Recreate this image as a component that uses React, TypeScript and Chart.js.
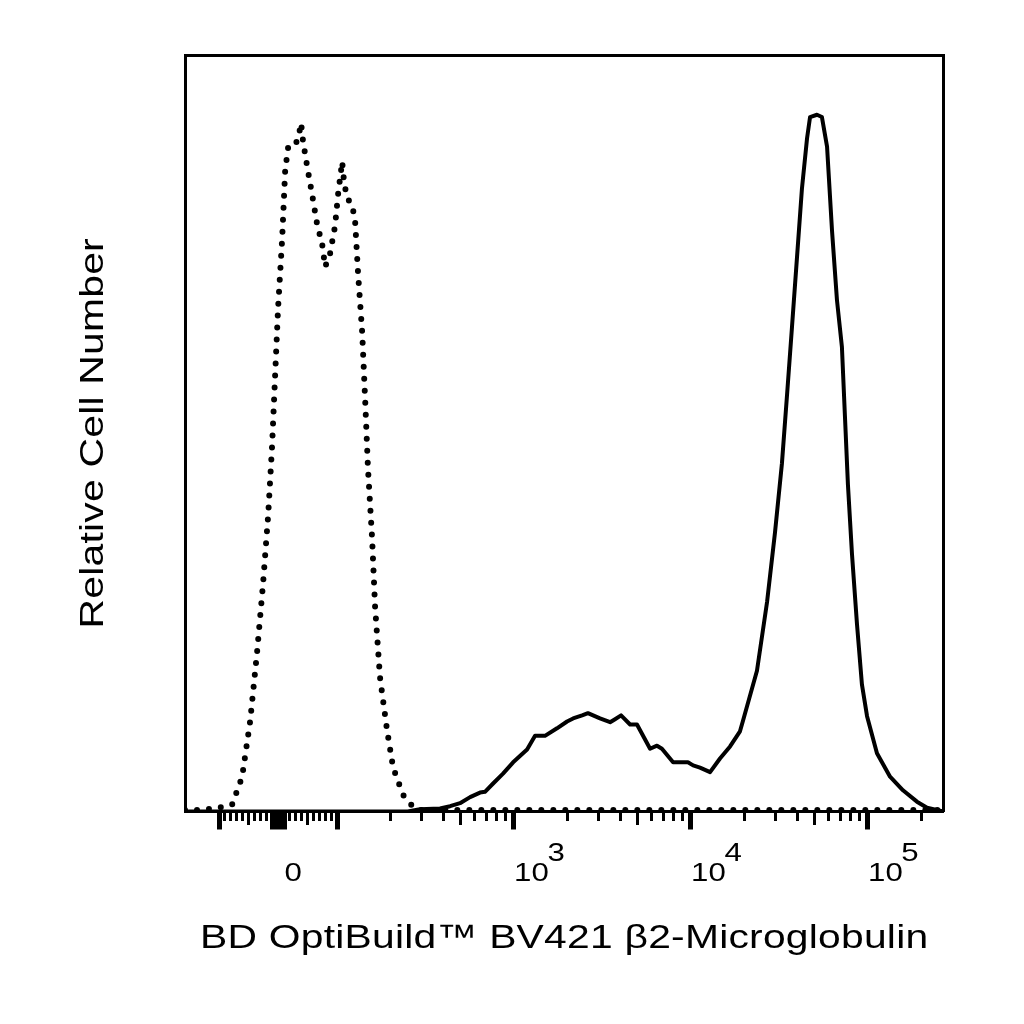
import React, { useEffect, useRef } from "react";
import { Chart, registerables } from "chart.js";

Chart.register(...registerables);

// ---- Data (x in logicle display units: 100 -> 2, 1000 -> 3, 10^4 -> 4 ...; y in % of max) ----
const isotypeX = [
  1.141, 1.226, 1.311, 1.407, 1.464, 1.509, 1.548, 1.582, 1.611, 1.633, 1.65, 1.667, 1.69,
  1.707, 1.723, 1.752, 1.78, 1.797, 1.808, 1.831, 1.859, 1.887, 1.916, 1.933, 1.961, 1.989,
  2.006, 2.029, 2.04, 2.057, 2.085, 2.102, 2.119, 2.142, 2.159, 2.175, 2.198, 2.215, 2.243,
  2.283, 2.317, 2.373, 2.43, 2.458, 5.427,
];
const isotypeY = [
  0.2, 0.2, 0.4, 0.9, 4.6, 11.9, 21.0, 30.1, 39.2, 48.3, 57.5, 66.6, 75.7,
  84.7, 87.7, 87.7, 88.9, 91.0, 88.6, 85.3, 81.6, 77.7, 75.0, 72.0, 73.8, 77.4,
  81.6, 85.9, 83.2, 81.1, 80.2, 78.1, 71.1, 63.4, 54.4, 45.3, 36.2, 27.1, 17.7,
  10.7, 5.8, 2.2, 0.6, 0.2, 0.2,
];
const stainedX = [
  1.141, 2.4, 2.469, 2.582, 2.639, 2.695, 2.752, 2.808, 2.836, 2.882, 2.938, 2.995, 3.074,
  3.119, 3.175, 3.243, 3.3, 3.334, 3.385, 3.418, 3.447, 3.486, 3.543, 3.571, 3.605, 3.656,
  3.695, 3.769, 3.808, 3.836, 3.899, 3.983, 4.012, 4.051, 4.108, 4.164, 4.221, 4.277, 4.294,
  4.373, 4.43, 4.475, 4.514, 4.543, 4.571, 4.599, 4.627, 4.656, 4.673, 4.712, 4.74, 4.769,
  4.797, 4.825, 4.853, 4.87, 4.887, 4.91, 4.938, 4.966, 4.995, 5.051, 5.125, 5.198, 5.277,
  5.334, 5.407, 5.427,
];
const stainedY = [
  0, 0, 0.3, 0.4, 0.7, 1.1, 1.9, 2.5, 2.6, 3.7, 5.0, 6.5, 8.2,
  10.0, 10.0, 11.0, 11.9, 12.3, 12.7, 13.0, 12.7, 12.3, 11.8, 12.2, 12.7, 11.5,
  11.5, 8.3, 8.7, 8.3, 6.5, 6.5, 6.1, 5.8, 5.2, 7.0, 8.6, 10.6, 12.0,
  18.6, 27.7, 36.9, 46.0, 55.1, 64.1, 73.2, 82.3, 89.0, 91.8, 92.1, 91.8, 87.9,
  76.8, 67.6, 61.4, 52.3, 43.2, 34.0, 24.8, 16.8, 12.6, 7.7, 4.6, 2.8, 1.3,
  0.5, 0.1, 0,
];

// Axis ticks (fluorescence intensities)
const majorTicks = [-100, 0, 100, 1000, 10000, 100000];
const mediumTicks = [-50, 50, 500, 5000, 50000];
const minorTicks = [
  -90, -80, -70, -60, -40, -30, -20, -10, 10, 20, 30, 40, 60, 70, 80, 90,
  200, 300, 400, 600, 700, 800, 900, 2000, 3000, 4000, 6000, 7000, 8000, 9000,
  20000, 30000, 40000, 60000, 70000, 80000, 90000, 200000,
];
const labelledTicks = [0, 1000, 10000, 100000];
const labelBases = ["\u20090", "10", "10", "10"];
const labelExponents = ["", "3", "4", "5"];

const X_MIN = 1.141;
const X_MAX = 5.427;
const Y_MAX = 100;

const xTitle = "BD OptiBuild\u2122 BV421 \u03b22-Microglobulin";
const yTitle = "Relative Cell Number";

// biexponential-like display transform for tick placement
function toDisplay(v: number): number {
  const a = Math.abs(v);
  const k = 1 / 3;
  const d = a <= 100 ? (a / 100) * k : k + Math.log10(a) - 2;
  return 5 / 3 + Math.sign(v) * d;
}

const allTicks = [...majorTicks, ...mediumTicks, ...minorTicks].sort((a, b) => a - b);

function tickKind(v: number): string {
  if (v === 0) return "zero";
  if (majorTicks.includes(v)) return "major";
  if (mediumTicks.includes(v)) return "medium";
  return "minor";
}

function tickLabel(v: number): string | string[] {
  const i = labelledTicks.indexOf(v);
  if (i < 0) return "";
  const exp = labelExponents[i];
  return [exp ? "\u2007\u2002" + exp : "", labelBases[i]];
}

const FONT = "'Liberation Sans', Arial, Helvetica, sans-serif";
const TEXT_STRETCH = 1.2;

// The reference text is rendered horizontally wide; stretch glyphs along the reading direction.
const wideTextPlugin = {
  id: "wideText",
  beforeDraw(chart: any) {
    const ctx = chart.ctx;
    ctx.letterSpacing = "0.2px";
    if (!ctx.__wide) {
      const orig = ctx.fillText.bind(ctx);
      ctx.fillText = (text: string, x: number, y: number) => {
        ctx.save();
        ctx.translate(x, y);
        ctx.scale(TEXT_STRETCH, 1);
        orig(text, 0, 0);
        ctx.restore();
      };
      ctx.__wide = true;
    }
  },
};

export default function App() {
  const ref = useRef<HTMLCanvasElement>(null);

  useEffect(() => {
    if (!ref.current) return;
    const chart = new Chart(ref.current, {
      type: "line",
      data: {
        datasets: [
          {
            label: "Isotype control",
            data: isotypeX.map((x, i) => ({ x, y: isotypeY[i] })),
            borderColor: "#000",
            borderWidth: 6,
            borderDash: [0, 12],
            borderCapStyle: "round",
            borderJoinStyle: "round",
            pointRadius: 0,
            fill: false,
            tension: 0,
          },
          {
            label: "\u03b22-Microglobulin",
            data: stainedX.map((x, i) => ({ x, y: stainedY[i] })),
            borderColor: "#000",
            borderWidth: 4,
            borderJoinStyle: "round",
            pointRadius: 0,
            fill: false,
            tension: 0,
          },
        ],
      },
      options: {
        responsive: false,
        animation: false,
        layout: { padding: 0 },
        plugins: {
          legend: { display: false },
          tooltip: { enabled: false },
        },
        scales: {
          x: {
            type: "linear",
            position: "bottom",
            min: X_MIN,
            max: X_MAX,
            afterBuildTicks: (scale: any) => {
              scale.ticks = allTicks.map((v) => ({ value: toDisplay(v) }));
            },
            afterFit: (scale: any) => {
              scale.height = 212.5;
            },
            ticks: {
              autoSkip: false,
              maxRotation: 0,
              minRotation: 0,
              align: "start",
              padding: 13.5,
              color: "#000",
              font: { family: FONT, size: 26, lineHeight: 0.8 },
              callback: (_value: any, index: number) => tickLabel(allTicks[index]),
            },
            grid: {
              display: true,
              drawOnChartArea: false,
              drawTicks: true,
              tickLength: 18,
              color: "#000",
              tickColor: "#000",
              tickWidth: (ctx: any) => {
                const k = tickKind(allTicks[ctx.index]);
                return k === "zero" ? 17 : k === "major" ? 5 : 3;
              },
              tickBorderDash: (ctx: any) => {
                const k = tickKind(allTicks[ctx.index]);
                return k === "minor" ? [8, 60] : k === "medium" ? [12, 60] : [];
              },
            },
            border: { display: true, color: "#000", width: 3 },
            title: {
              display: true,
              text: xTitle,
              color: "#000",
              font: { family: FONT, size: 34, lineHeight: 1.2 },
              padding: { top: 0, bottom: 65.4 },
            },
          },
          xTop: {
            type: "linear",
            position: "top",
            min: X_MIN,
            max: X_MAX,
            afterFit: (scale: any) => {
              scale.height = 55;
            },
            ticks: { display: false },
            grid: { display: false },
            border: { display: true, color: "#000", width: 3 },
          },
          y: {
            type: "linear",
            position: "left",
            min: 0,
            max: Y_MAX,
            afterFit: (scale: any) => {
              scale.width = 185;
            },
            ticks: { display: false },
            grid: { display: false },
            border: { display: true, color: "#000", width: 3 },
            title: {
              display: true,
              text: yTitle,
              color: "#000",
              font: { family: FONT, size: 34, lineHeight: 1.2 },
              padding: { top: 73.3, bottom: 0 },
            },
          },
          yRight: {
            type: "linear",
            position: "right",
            min: 0,
            max: Y_MAX,
            afterFit: (scale: any) => {
              scale.width = 80.5;
            },
            ticks: { display: false },
            grid: { display: false },
            border: { display: true, color: "#000", width: 3 },
          },
        },
      },
      plugins: [wideTextPlugin],
    } as any);
    return () => chart.destroy();
  }, []);

  return (
    <div
      style={{
        position: "fixed",
        left: 0,
        top: 0,
        width: 1024,
        height: 1024,
        background: "#fff",
      }}
    >
      <canvas ref={ref} width={1024} height={1024} style={{ display: "block" }} />
    </div>
  );
}
